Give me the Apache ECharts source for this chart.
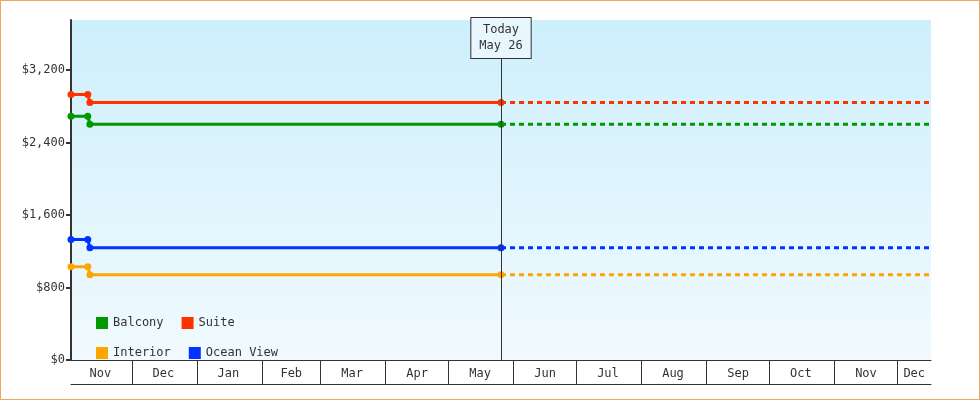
<!DOCTYPE html>
<html><head><meta charset="utf-8">
<script src="https://cdn.jsdelivr.net/npm/echarts@6/dist/echarts.min.js"></script>
<style>html,body{margin:0;padding:0;}#c{width:978px;height:398px;border:1px solid #f0a860;}</style>
</head><body><div id="c"></div>
<script>
const names = ['Balcony','Suite','Interior','Ocean View'];
const colors = ['#009900','#ff3300','#ffa500','#0033ff'];
const startPrices = [2689, 2929, 1029, 1329];
const currentPrices = [2599, 2839, 939, 1239];
const dates = ['2024-11-02','2024-11-10','2024-11-11','2025-05-26'];
const endDate = '2025-12-17';
const today = '2025-05-26';
const monthNames = ['Jan','Feb','Mar','Apr','May','Jun','Jul','Aug','Sep','Oct','Nov','Dec'];
const monthStarts = ['2024-12-01','2025-01-01','2025-02-01','2025-03-01','2025-04-01','2025-05-01','2025-06-01','2025-07-01','2025-08-01','2025-09-01','2025-10-01','2025-11-01','2025-12-01'];
const labelDates = ['2024-11-16','2024-12-16','2025-01-16','2025-02-15','2025-03-16','2025-04-16','2025-05-16','2025-06-16','2025-07-16','2025-08-16','2025-09-16','2025-10-16','2025-11-16','2025-12-09'];
const yTicks = [0,800,1600,2400,3200];

const base = Date.UTC(2024,10,2);
const t = s => (Date.parse(s + 'T00:00:00Z') - base) / 86400000;
const monthOf = d => monthNames[new Date(base + d*86400000).getUTCMonth()];
const font = 'DejaVu Sans Mono';
const series = [];
names.forEach((n,i)=>{
  const s = {name:n,type:'line',color:colors[i],symbol:'circle',symbolSize:7,
    lineStyle:{width:3},
    data:[[t(dates[0]),startPrices[i]],[t(dates[1]),startPrices[i]],[t(dates[2]),currentPrices[i]],[t(dates[3]),currentPrices[i]]]};
  if (i===0) s.markLine = {symbol:'none',silent:true,
      lineStyle:{color:'#333',width:1,type:'solid'},
      label:{position:'end',formatter:'Today\nMay 26',fontFamily:font,fontSize:12,color:'#333',
        backgroundColor:'#e8f7fd',borderColor:'#333',borderWidth:1,padding:[4,8],lineHeight:16,offset:[0,43]},
      data:[[{coord:[t(today),0]},{coord:[t(today),3750]}]]};
  series.push(s);
  series.push({name:n,type:'line',color:colors[i],symbol:'none',
    lineStyle:{width:3,type:[5,4]},
    data:[[t(today),currentPrices[i]],[t(endDate),currentPrices[i]]]});
});

const chart = echarts.init(document.getElementById('c'));
chart.setOption({
  animation:false,
  textStyle:{fontFamily:font},
  grid:{left:70,right:48,top:19,bottom:39,show:true,borderWidth:0,
    backgroundColor:{type:'linear',x:0,y:0,x2:0,y2:1,colorStops:[{offset:0,color:'#cdeffc'},{offset:1,color:'#f1fafe'}]}},
  legend:{data:names,left:90,top:311,width:200,itemWidth:12,itemHeight:12,itemGap:18,
    icon:'rect',textStyle:{fontFamily:font,fontSize:12,color:'#333'}},
  xAxis:[{type:'value',min:0,max:t(endDate),
    axisLine:{lineStyle:{color:'#333',width:1}},
    splitLine:{show:false},
    axisTick:{customValues:monthStarts.map(t),length:24,lineStyle:{color:'#333'}},
    axisLabel:{customValues:labelDates.map(t),margin:8,fontFamily:font,fontSize:12,color:'#333',
      showMinLabel:true,showMaxLabel:true,formatter:v=>monthOf(v)}},
   {type:'value',min:0,max:t(endDate),position:'bottom',offset:24,
    axisLine:{lineStyle:{color:'#333'}},axisTick:{show:false},axisLabel:{show:false},splitLine:{show:false}}],
  yAxis:{type:'value',min:0,max:3750,interval:800,
    axisLine:{show:true,lineStyle:{color:'#333',width:2}},
    axisTick:{show:true,length:5,lineStyle:{color:'#333',width:2},customValues:yTicks},
    splitLine:{show:false},
    axisLabel:{customValues:yTicks,fontFamily:font,fontSize:12,color:'#333',margin:6,
      formatter:v=>'$'+v.toLocaleString('en-US')}},
  series
});
</script></body></html>
